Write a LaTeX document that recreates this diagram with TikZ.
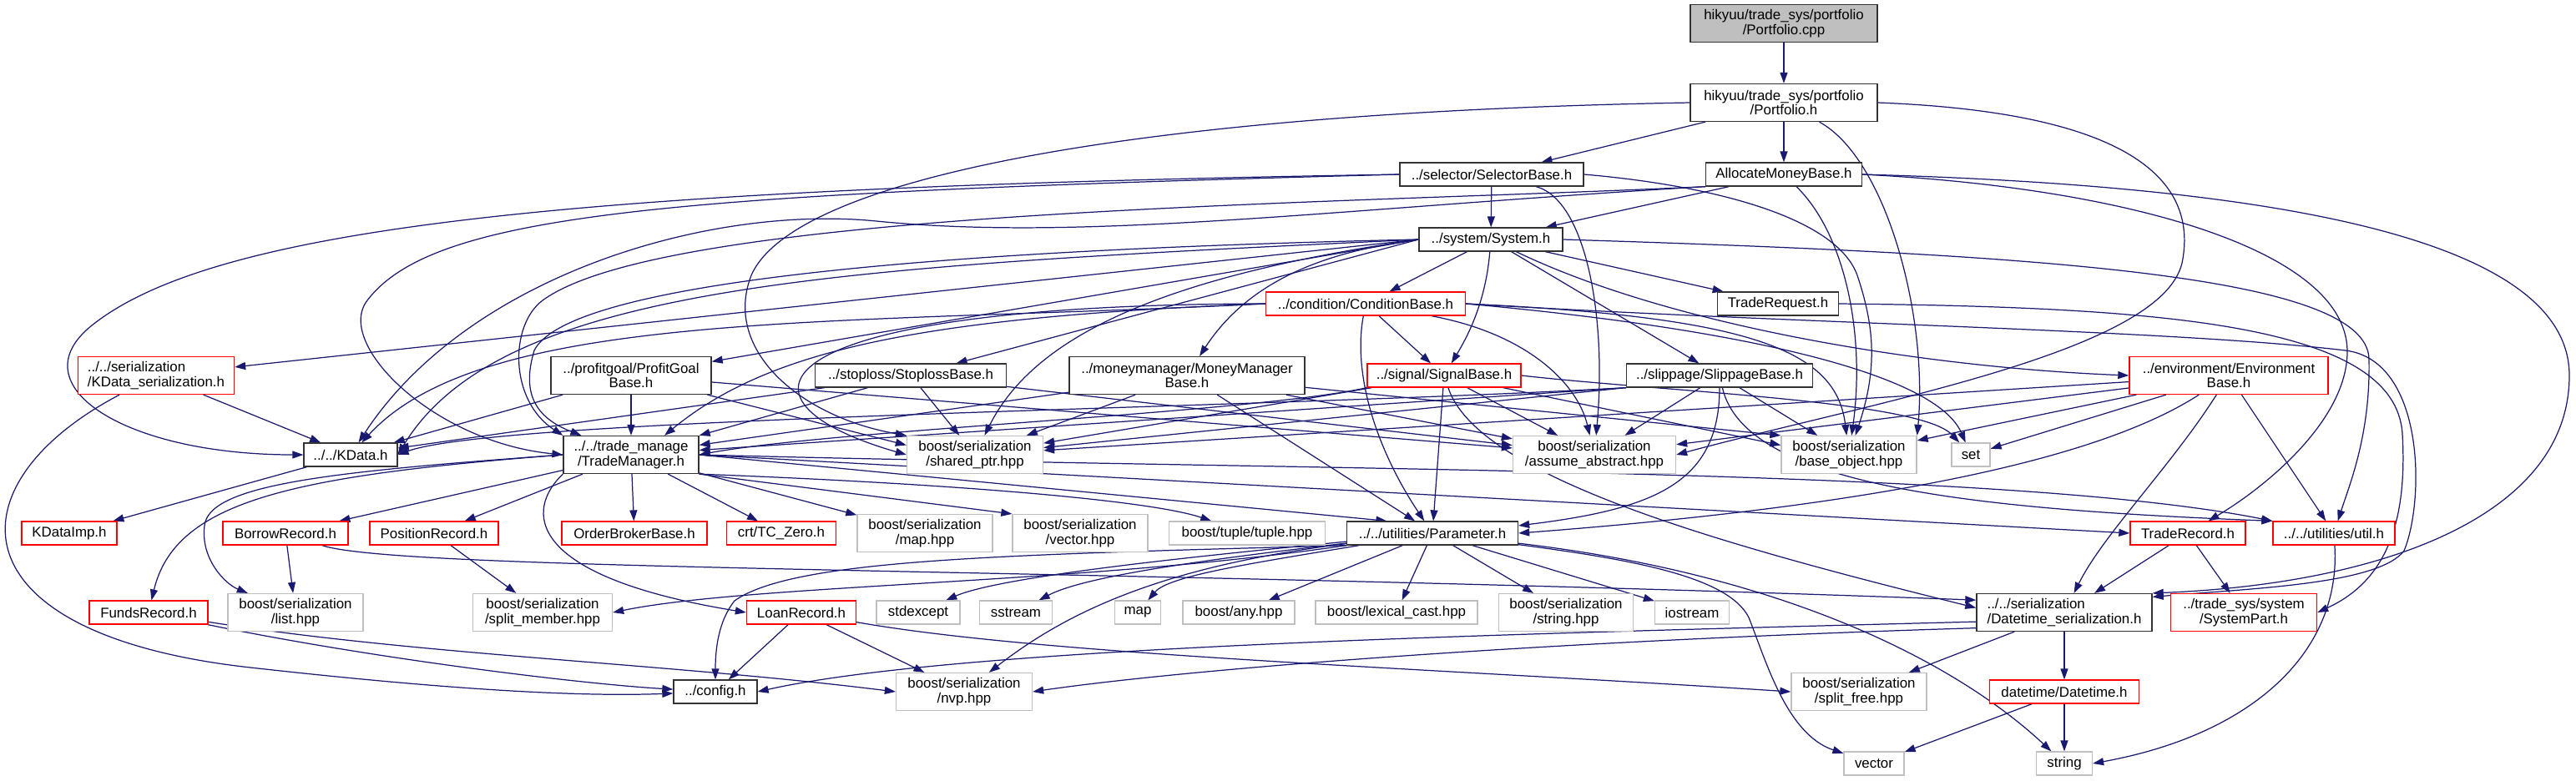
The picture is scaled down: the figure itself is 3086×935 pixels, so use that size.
\documentclass[tikz,border=0pt]{standalone}
\usepackage{fontspec}
\setmainfont{Liberation Sans}
\usetikzlibrary{arrows.meta,backgrounds}

\definecolor{edgeblue}{HTML}{191970}
\definecolor{boxred}{HTML}{FF0000}
\definecolor{boxgray}{HTML}{BFBFBF}
\newcommand{\incfont}{\fontsize{4.8pt}{5.0pt}\selectfont}

\tikzset{
  file/.style={draw=black!80, fill=white, line width=0.35pt, inner sep=0pt,
    minimum height=0.28cm, align=center, font=\incfont},
  tall/.style={minimum height=0.45cm},
  trunc/.style={file, draw=boxred},
  extern/.style={file, draw=boxgray},
  root/.style={file, fill=boxgray},
  inc/.style={draw=edgeblue, line width=0.35pt,
    -{Triangle[length=0.13cm, width=0.09cm]}},
}

\begin{document}
\begin{tikzpicture}[x=0.01cm, y=-0.01cm]
\useasboundingbox (0,0) rectangle (3086,935);

% Portfolio and the headers above the component bases
\node[root, tall, minimum width=2.24cm] (cpp) at (2137,28) {hikyuu/trade\_sys/portfolio\\/Portfolio.cpp};
\node[file, tall, minimum width=2.24cm] (portfolio) at (2137,123) {hikyuu/trade\_sys/portfolio\\/Portfolio.h};
\node[file, minimum width=2.20cm] (selector) at (1787,209) {../selector/SelectorBase.h};
\node[file, minimum width=1.87cm] (allocate) at (2137,209) {AllocateMoneyBase.h};
\node[file, minimum width=1.72cm] (system) at (1786,287) {../system/System.h};
\node[trunc, minimum width=2.39cm] (condition) at (1636,364) {../condition/ConditionBase.h};
\node[file, minimum width=1.45cm] (traderequest) at (2130,364) {TradeRequest.h};

% Component bases
\node[trunc, tall, minimum width=1.87cm, align=left] (kdataser) at (187,450) {../../serialization\\/KData\_serialization.h};
\node[file, tall, minimum width=1.92cm] (profitgoal) at (756,450) {../profitgoal/ProfitGoal\\Base.h};
\node[file, minimum width=2.29cm] (stoploss) at (1091,450) {../stoploss/StoplossBase.h};
\node[file, tall, minimum width=2.82cm] (moneymanager) at (1422,450) {../moneymanager/MoneyManager\\Base.h};
\node[trunc, minimum width=1.84cm] (signal) at (1730,450) {../signal/SignalBase.h};
\node[file, minimum width=2.23cm] (slippage) at (2060,450) {../slippage/SlippageBase.h};
\node[trunc, tall, minimum width=2.38cm] (environment) at (2670,450) {../environment/Environment\\Base.h};

% Shared headers
\node[file, minimum width=1.12cm] (kdata) at (420,545) {../../KData.h};
\node[file, tall, minimum width=1.62cm] (trademanager) at (756,545) {../../trade\_manage\\/TradeManager.h};
\node[extern, tall, minimum width=1.63cm] (shptr) at (1168,545) {boost/serialization\\/shared\_ptr.hpp};
\node[extern, tall, minimum width=1.95cm] (assab) at (1910,545) {boost/serialization\\/assume\_abstract.hpp};
\node[extern, tall, minimum width=1.62cm] (bobj) at (2215,545) {boost/serialization\\/base\_object.hpp};
\node[extern, minimum width=0.46cm] (set) at (2361,545) {set};

\node[trunc, minimum width=1.14cm] (kdataimp) at (83,639) {KDataImp.h};
\node[trunc, minimum width=1.50cm] (borrow) at (342,639) {BorrowRecord.h};
\node[trunc, minimum width=1.54cm] (position) at (520,639) {PositionRecord.h};
\node[trunc, minimum width=1.74cm] (orderbroker) at (760,639) {OrderBrokerBase.h};
\node[trunc, minimum width=1.31cm] (tczero) at (936,639) {crt/TC\_Zero.h};
\node[extern, tall, minimum width=1.62cm] (maphpp) at (1108,639) {boost/serialization\\/map.hpp};
\node[extern, tall, minimum width=1.62cm] (vectorhpp) at (1294,639) {boost/serialization\\/vector.hpp};
\node[extern, minimum width=1.87cm] (tuple) at (1494,639) {boost/tuple/tuple.hpp};
\node[file, minimum width=2.05cm] (parameter) at (1716,639) {../../utilities/Parameter.h};
\node[trunc, minimum width=1.38cm] (traderecord) at (2621,639) {TradeRecord.h};
\node[trunc, minimum width=1.46cm] (util) at (2796,639) {../../utilities/util.h};

\node[trunc, minimum width=1.42cm] (funds) at (178,734) {FundsRecord.h};
\node[extern, tall, minimum width=1.62cm] (listhpp) at (354,734) {boost/serialization\\/list.hpp};
\node[extern, tall, minimum width=1.67cm] (splitmember) at (650,734) {boost/serialization\\/split\_member.hpp};
\node[trunc, minimum width=1.31cm] (loan) at (960,734) {LoanRecord.h};
\node[extern, minimum width=1.00cm] (stdexcept) at (1100,734) {stdexcept};
\node[extern, minimum width=0.87cm] (sstream) at (1217,734) {sstream};
\node[extern, minimum width=0.55cm] (map) at (1363,734) {map};
\node[extern, minimum width=1.34cm] (any) at (1484,734) {boost/any.hpp};
\node[extern, minimum width=1.94cm] (lexical) at (1673,734) {boost/lexical\_cast.hpp};
\node[extern, tall, minimum width=1.61cm] (stringhpp) at (1876,734) {boost/serialization\\/string.hpp};
\node[extern, minimum width=0.89cm] (iostream) at (2027,734) {iostream};
\node[file, tall, minimum width=2.10cm, align=left] (dtser) at (2473,734) {../../serialization\\/Datetime\_serialization.h};
\node[trunc, tall, minimum width=1.75cm] (systempart) at (2688,734) {../trade\_sys/system\\/SystemPart.h};

\node[file, minimum width=1.00cm] (config) at (857,829) {../config.h};
\node[extern, tall, minimum width=1.63cm] (nvp) at (1155,829) {boost/serialization\\/nvp.hpp};
\node[extern, tall, minimum width=1.62cm] (splitfree) at (2227,829) {boost/serialization\\/split\_free.hpp};
\node[trunc, minimum width=1.79cm] (datetime) at (2473,829) {datetime/Datetime.h};

\node[extern, minimum width=0.72cm] (vector) at (2245,915) {vector};
\node[extern, minimum width=0.67cm] (string) at (2473,915) {string};

\begin{scope}[on background layer]
% Portfolio
\draw[inc] (cpp) -- (portfolio);
\draw[inc] (portfolio) -- (selector);
\draw[inc] (portfolio) -- (allocate);
\draw[inc] (portfolio.west) .. controls (1350,135) and (950,215) .. (900,330) .. controls (865,420) and (960,500) .. (shptr.north west);
\draw[inc] (portfolio.east) .. controls (2560,135) and (2630,220) .. (2615,310) .. controls (2600,420) and (2250,480) .. (assab.east);
\draw[inc] (portfolio) .. controls (2260,190) and (2310,380) .. (bobj.north east);

% Selector and allocator
\draw[inc] (selector) -- (system);
\draw[inc] (selector.west) .. controls (700,225) and (260,270) .. (110,390) .. controls (20,462) and (150,545) .. (kdata.west);
\draw[inc] (selector.west) .. controls (800,232) and (520,255) .. (440,360) .. controls (400,412) and (520,530) .. (trademanager.west);
\draw[inc] (selector) .. controls (1900,240) and (1925,380) .. (assab);
\draw[inc] (selector.east) .. controls (2050,222) and (2200,260) .. (2225,330) .. controls (2245,390) and (2250,440) .. (bobj);
\draw[inc] (allocate) -- (system);
\draw[inc] (allocate.south west) .. controls (1600,250) and (1300,290) .. (1050,265) .. controls (850,245) and (560,330) .. (kdata);
\draw[inc] (allocate.south west) .. controls (1600,245) and (800,250) .. (650,360) .. controls (610,390) and (610,480) .. (trademanager.north west);
\draw[inc] (allocate) .. controls (2210,280) and (2235,400) .. (bobj);
\draw[inc] (allocate.east) .. controls (2700,222) and (3078,280) .. (3078,450) .. controls (3078,620) and (2850,700) .. (dtser.north east);
\draw[inc] (allocate.east) .. controls (2550,225) and (2810,300) .. (2812,420) .. controls (2813,500) and (2720,580) .. (traderecord);

% System
\draw[inc] (system) -- (condition);
\draw[inc] (system) -- (traderequest);
\draw[inc] (system) -- (slippage);
\draw[inc] (system) .. controls (1780,360) and (1760,400) .. (signal);
\draw[inc] (system.west) -- (profitgoal);
\draw[inc] (system.west) -- (stoploss);
\draw[inc] (system.west) .. controls (1600,300) and (1500,330) .. (moneymanager);
\draw[inc] (system) .. controls (2000,390) and (2300,440) .. (environment.west);
\draw[inc] (system.west) -- (kdataser);
\draw[inc] (system.west) .. controls (1000,320) and (600,340) .. (kdata.east);
\draw[inc] (system.west) .. controls (1100,300) and (680,340) .. (640,420) .. controls (625,470) and (640,500) .. (trademanager);
\draw[inc] (system.west) .. controls (1400,330) and (1240,400) .. (shptr);
\draw[inc] (system.east) .. controls (2450,305) and (2835,330) .. (2838,430) .. controls (2840,520) and (2815,580) .. (util);
\draw[inc] (traderequest.east) .. controls (2600,368) and (2870,390) .. (2878,520) .. controls (2885,640) and (2850,700) .. (systempart.east);

% Condition
\draw[inc] (condition) -- (signal);
\draw[inc] (condition.west) .. controls (1000,390) and (580,370) .. (kdata);
\draw[inc] (condition.west) .. controls (1100,380) and (920,420) .. (trademanager.30);
\draw[inc] (condition.west) .. controls (900,365) and (860,480) .. (shptr.west);
\draw[inc] (condition) .. controls (1830,400) and (1890,460) .. (assab);
\draw[inc] (condition.east) .. controls (2100,380) and (2200,420) .. (bobj);
\draw[inc] (condition.east) .. controls (2100,395) and (2320,450) .. (set);
\draw[inc] (condition) .. controls (1620,450) and (1650,540) .. (parameter);
\draw[inc] (condition.east) .. controls (2150,388) and (2600,395) .. (2810,420) .. controls (2905,432) and (2905,600) .. (2880,660) .. controls (2850,700) and (2700,705) .. (dtser.10);

% Component bases
\draw[inc] (profitgoal) -- (kdata);
\draw[inc] (profitgoal) -- (trademanager);
\draw[inc] (profitgoal) -- (shptr.172);
\draw[inc] (profitgoal) -- (assab);
\draw[inc] (stoploss) -- (kdata);
\draw[inc] (stoploss) -- (trademanager);
\draw[inc] (stoploss) -- (shptr);
\draw[inc] (stoploss) -- (assab);
\draw[inc] (moneymanager) -- (trademanager);
\draw[inc] (moneymanager) -- (shptr);
\draw[inc] (moneymanager) -- (assab);
\draw[inc] (moneymanager) -- (bobj.north west);
\draw[inc] (moneymanager) -- (parameter.145);
\draw[inc] (signal.south west) .. controls (1500,495) and (1000,515) .. (trademanager.east);
\draw[inc] (signal) -- (shptr);
\draw[inc] (signal) -- (assab);
\draw[inc] (signal) -- (bobj.172);
\draw[inc] (signal) -- (parameter);
\draw[inc] (signal.east) .. controls (2000,470) and (2300,480) .. (set);
\draw[inc] (signal) .. controls (1770,570) and (2050,650) .. (dtser.177);
\draw[inc] (slippage.south west) .. controls (1500,490) and (600,500) .. (kdata.east);
\draw[inc] (slippage.south west) -- (trademanager);
\draw[inc] (slippage.south west) -- (shptr);
\draw[inc] (slippage) -- (assab);
\draw[inc] (slippage) -- (bobj);
\draw[inc] (slippage) .. controls (2060,580) and (1980,610) .. (parameter.5);
\draw[inc] (slippage) .. controls (2090,580) and (2350,610) .. (util.north west);
\draw[inc] (environment) -- (shptr);
\draw[inc] (environment) -- (assab);
\draw[inc] (environment) -- (bobj);
\draw[inc] (environment) -- (set);
\draw[inc] (environment) -- (util);
\draw[inc] (environment) .. controls (2500,560) and (2200,610) .. (parameter.east);
\draw[inc] (environment) .. controls (2600,560) and (2520,640) .. (dtser);
\draw[inc] (kdataser) -- (kdata);
\draw[inc] (kdataser) .. controls (-60,580) and (-60,760) .. (300,800) .. controls (550,828) and (700,835) .. (config);
\draw[inc] (kdata) -- (kdataimp);

% Trade manager
\draw[inc] (trademanager) -- (borrow);
\draw[inc] (trademanager) -- (position);
\draw[inc] (trademanager) -- (orderbroker);
\draw[inc] (trademanager) -- (tczero);
\draw[inc] (trademanager) -- (maphpp);
\draw[inc] (trademanager.south east) -- (vectorhpp.north west);
\draw[inc] (trademanager.south east) .. controls (1150,580) and (1380,600) .. (tuple);
\draw[inc] (trademanager.west) .. controls (350,570) and (210,600) .. (funds);
\draw[inc] (trademanager.west) .. controls (400,565) and (250,580) .. (245,630) .. controls (240,670) and (270,700) .. (listhpp);
\draw[inc] (trademanager.south west) .. controls (630,610) and (625,690) .. (loan.west);
\draw[inc] (trademanager.east) -- (parameter.165);
\draw[inc] (trademanager.east) -- (traderecord.west);
\draw[inc] (trademanager.east) .. controls (1600,565) and (2400,560) .. (util.north west);

% Records
\draw[inc] (borrow) -- (listhpp);
\draw[inc] (borrow) .. controls (480,685) and (1300,680) .. (dtser.172);
\draw[inc] (position) -- (splitmember);
\draw[inc] (funds) .. controls (450,790) and (700,820) .. (config);
\draw[inc] (funds) .. controls (500,785) and (800,795) .. (nvp.west);
\draw[inc] (loan) -- (config);
\draw[inc] (loan) -- (nvp);
\draw[inc] (loan) .. controls (1250,785) and (1700,800) .. (splitfree.west);
\draw[inc] (traderecord) -- (dtser);
\draw[inc] (traderecord) -- (systempart);

% Parameter
\draw[inc] (parameter) .. controls (1450,665) and (1200,690) .. (stdexcept);
\draw[inc] (parameter) .. controls (1450,670) and (1300,690) .. (sstream);
\draw[inc] (parameter) .. controls (1500,675) and (1400,690) .. (map);
\draw[inc] (parameter) -- (any);
\draw[inc] (parameter) -- (lexical);
\draw[inc] (parameter) -- (stringhpp);
\draw[inc] (parameter) -- (iostream);
\draw[inc] (parameter) .. controls (1380,680) and (1270,740) .. (nvp);
\draw[inc] (parameter.south west) .. controls (1200,665) and (950,670) .. (880,720) .. controls (860,745) and (857,780) .. (config);
\draw[inc] (parameter.south west) .. controls (1300,700) and (900,700) .. (splitmember.east);
\draw[inc] (parameter) .. controls (1950,670) and (2070,690) .. (2095,740) .. controls (2115,790) and (2140,880) .. (vector);
\draw[inc] (parameter) .. controls (2150,690) and (2350,800) .. (string);

% Datetime
\draw[inc] (dtser) -- (datetime);
\draw[inc] (dtser) -- (splitfree);
\draw[inc] (dtser.186) .. controls (1800,760) and (1150,775) .. (config.east);
\draw[inc] (dtser.190) .. controls (1800,770) and (1400,805) .. (nvp.east);
\draw[inc] (datetime) -- (string);
\draw[inc] (datetime) -- (vector);
\draw[inc] (util) .. controls (2805,780) and (2700,880) .. (string.east);
\end{scope}
\end{tikzpicture}
\end{document}
